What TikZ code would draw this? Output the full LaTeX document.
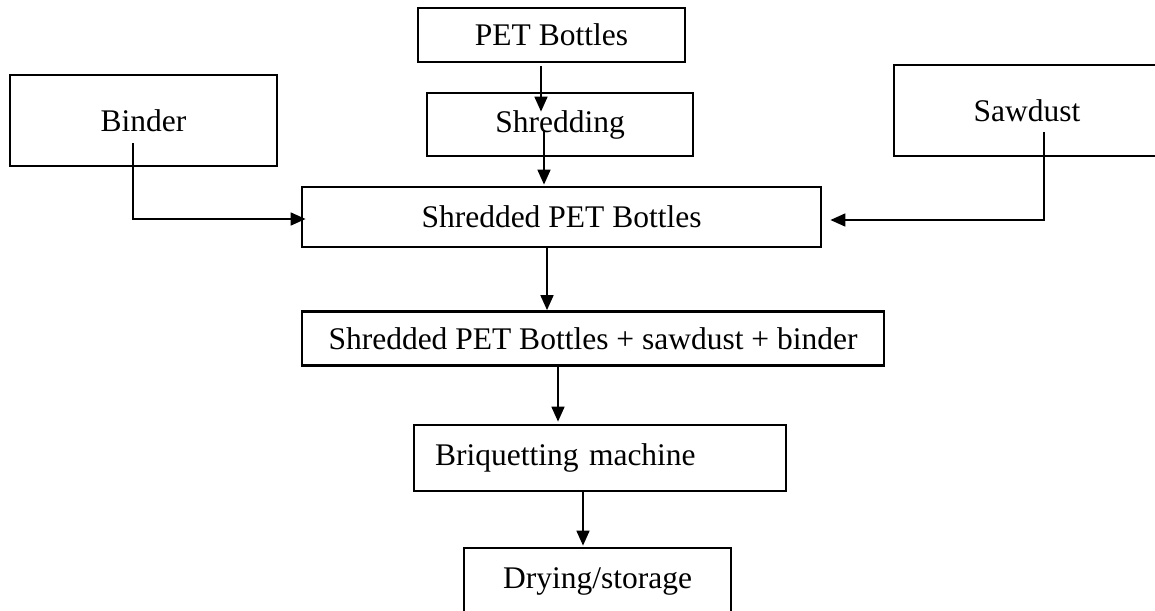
\documentclass[tikz,border=0pt]{standalone}
\usepackage{fontspec}
\setmainfont{Liberation Serif}
\usetikzlibrary{arrows.meta,calc}
\tikzset{
  box/.style={draw=black, line width=2.8pt, rectangle, inner sep=0pt, font=\fontsize{31.5}{36}\selectfont},
  arr/.style={line width=1.7pt, -{Triangle[length=15pt,width=13pt]}}
}
\begin{document}
\begin{tikzpicture}[x=1pt,y=-1pt]
\useasboundingbox (0,0) rectangle (1155,610);
\clip (0,0) rectangle (1155,610);
\node[box, minimum width=267pt, minimum height=54pt] (pet) at (551.5,35) {PET Bottles};
\node[box, minimum width=266pt, minimum height=63pt] (shred) at (560,124.5) {Shredding};
\node[box, minimum width=267pt, minimum height=91pt] (binder) at (143.5,120.5) {Binder};
\node[box, minimum width=266pt, minimum height=91pt] (saw) at (1027,110.5) {Sawdust};
\node[box, minimum width=519pt, minimum height=60pt] (spet) at (561.5,217) {Shredded PET Bottles};
\node[box, minimum width=582pt, minimum height=54pt] (mix) at (593,338.5) {Shredded PET Bottles + sawdust + binder};
\node[box, minimum height=66pt, text width=330pt, inner xsep=21pt, align=left] (briq) at (600,458) {Briquetting machine};
\node[box, minimum width=267pt, minimum height=66pt] (dry) at (597.5,581) {Drying/storage};
\draw[arr] ($(pet.south)+(-10.5,3)$) -- ($(shred.north)+(-19,20)$);
\draw[arr] ($(shred.center)+(-16,5.5)$) -- ($(spet.north)+(-17.5,-1)$);
\draw[arr] ($(binder.center)+(-10.5,22.5)$) |- ($(spet.west)+(5,2)$);
\draw[arr] ($(saw.center)+(17,21.5)$) |- ($(spet.east)+(8,3)$);
\draw[arr] ($(spet.south)+(-14.5,0)$) -- ($(mix.north)+(-46,0)$);
\draw[arr] ($(mix.south)+(-35,0)$) -- ($(briq.north)+(-42,-2)$);
\draw[arr] ($(briq.south)+(-17,0)$) -- ($(dry.north)+(-14.5,-1)$);
\end{tikzpicture}
\end{document}
